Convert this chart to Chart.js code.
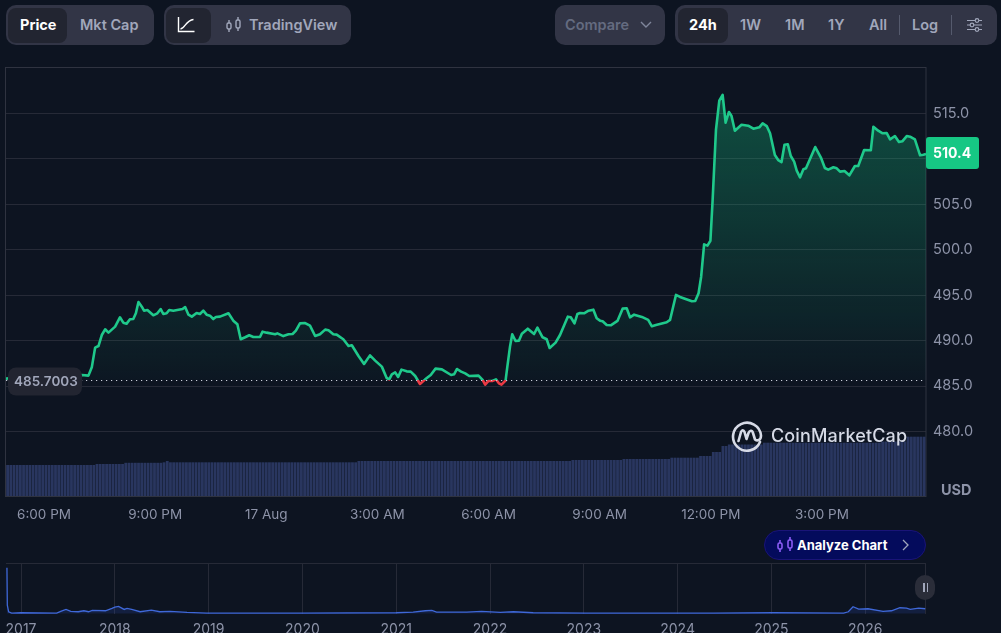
<!DOCTYPE html>
<html>
<head>
<meta charset="utf-8">
<title>Price chart</title>
<script src="https://cdn.jsdelivr.net/npm/chart.js@4/dist/chart.umd.min.js"></script>
<style>
html,body{margin:0;padding:0;background:#0d1421;width:1001px;height:633px;overflow:hidden;font-family:Inter,sans-serif}
canvas{position:absolute;left:0}
#main{top:60px}
#mini{top:555px}
.box{position:absolute;top:5px;height:40px;background:#323546;border-radius:10px}
.on{position:absolute;top:8px;height:35px;background:#222531;border-radius:8px}
.t{position:absolute;top:15px;line-height:20px;font-size:14.5px;font-weight:600;color:#a1a7bb;white-space:nowrap}
.t.w{color:#fff;font-weight:700}
.sep{position:absolute;top:15px;height:20px;width:1px;background:#555a6d}
svg{position:absolute;overflow:visible}
#mark{position:absolute;left:771px;top:424px;line-height:24px;font-size:18px;font-weight:500;color:#d6dae6;letter-spacing:.15px}
#analyze{position:absolute;left:764px;top:530px;width:160px;height:28px;background:#040b5c;border:1px solid #1a1478;border-radius:15px}
#analyze span{position:absolute;left:32px;top:4px;line-height:20px;font-size:13px;font-weight:700;color:#fff;white-space:nowrap}
#pause{position:absolute;left:915px;top:575px;width:20px;height:25px;background:#2a2d39;border-radius:10px}
#pause i{position:absolute;top:8px;width:1.5px;height:9px;background:#a1a7bb}
</style>
</head>
<body>
<canvas id="main" width="1001" height="470" style="width:1001px;height:470px"></canvas>
<canvas id="mini" width="1001" height="78" style="width:1001px;height:78px"></canvas>

<div class="box" style="left:6px;width:148px"></div>
<div class="on" style="left:8px;width:59px"></div>
<div class="t w" style="left:20px">Price</div>
<div class="t" style="left:80px">Mkt Cap</div>

<div class="box" style="left:164px;width:187px"></div>
<div class="on" style="left:166px;width:45px"></div>
<svg style="left:178px;top:17px" width="17" height="16" fill="none" stroke="#fff" stroke-width="1.4"><path d="M0.5 0V14.5H16.5"/><path d="M2.5 12C7 11.5 8 3 15.5 2.5"/></svg>
<svg style="left:226px;top:17px" width="16" height="16" fill="none" stroke="#a1a7bb" stroke-width="1.4"><rect x="1" y="6" width="4" height="6" rx="1.5"/><rect x="10" y="3" width="4" height="8" rx="1.5"/><path d="M3 3V6M3 12V15M12 0V3M12 11V14"/></svg>
<div class="t" style="left:249px">TradingView</div>

<div class="box" style="left:555px;width:110px"></div>
<div class="t" style="left:565px;color:#646b80">Compare</div>
<svg style="left:640px;top:21px" width="12" height="8" fill="none" stroke="#7f869b" stroke-width="1.4"><path d="M1 1L6 6L11 1"/></svg>

<div class="box" style="left:675px;width:322px"></div>
<div class="on" style="left:678px;width:50px"></div>
<div class="t w" style="left:689px">24h</div>
<div class="t" style="left:740px">1W</div>
<div class="t" style="left:785px">1M</div>
<div class="t" style="left:828px">1Y</div>
<div class="t" style="left:869px">All</div>
<div class="sep" style="left:899px"></div>
<div class="t" style="left:912px">Log</div>
<div class="sep" style="left:951px"></div>
<svg style="left:967px;top:18px" width="15" height="14" fill="none" stroke="#a1a7bb" stroke-width="1.2"><path d="M0 2.5H8M12 2.5H15M0 7H3M7 7H15M0 11.5H8M12 11.5H15"/><circle cx="10" cy="2.5" r="1.8"/><circle cx="5" cy="7" r="1.8"/><circle cx="10" cy="11.5" r="1.8"/></svg>

<svg style="left:733px;top:421px" width="30" height="30" fill="none" stroke="#d6dae6" stroke-width="2.6" stroke-linecap="round" stroke-linejoin="round"><path d="M27 21A14 14 0 1 1 28 14.5C28 19 24.5 20.5 22 18.5L20 12C19 8.5 16.5 9.5 15.5 12L13.5 18L11.5 11C10.5 8.5 9 9 8 11L5.5 20"/></svg>
<div id="mark">CoinMarketCap</div>

<div id="analyze">
<svg style="left:12px;top:6px" width="17" height="16" fill="none" stroke="#8b5cf6" stroke-width="1.6"><rect x="1" y="6" width="4" height="6" rx="1.5"/><rect x="11" y="3" width="4" height="8" rx="1.5"/><path d="M3 3V6M3 12V15M13 0V3M13 11V14"/></svg>
<span>Analyze Chart</span>
<svg style="left:137px;top:8px" width="8" height="12" fill="none" stroke="#a1a7bb" stroke-width="1.3"><path d="M1 1L6 6L1 11"/></svg>
</div>
<div id="pause"><i style="left:8px"></i><i style="left:11.5px"></i></div>

<script>
const AXIS_TEXT = '#8d93a8'
const GRID = '#262a37'
const GREEN = '#1fc98b'
const RED = '#ea3943'
const BASE_PRICE = 485.7003
const LAST_PRICE_LABEL = '510.4'

// hours counted from midnight of 16 Aug
const hours = [
16.97,17.5,18.2,19.02,19.2,19.29,19.38,19.47,19.56,19.65,19.74,19.92,20.05,20.14,20.23,20.32,20.41,20.48,20.55,20.64,
20.7,20.79,20.95,21.06,21.15,21.22,21.31,21.38,21.49,21.74,21.81,21.9,21.99,22.12,22.21,22.3,22.39,22.48,22.57,22.64,
22.75,22.98,23.11,23.22,23.31,23.43,23.54,23.65,23.83,23.9,24.01,24.24,24.3,24.46,24.6,24.71,24.8,24.91,25.05,25.18,
25.32,25.45,25.59,25.68,25.81,25.9,26.08,26.22,26.31,26.49,26.64,26.8,26.94,27.12,27.25,27.32,27.39,27.48,27.56,27.65,
27.79,27.9,28.02,28.15,28.29,28.44,28.57,28.74,28.99,29.07,29.15,29.26,29.37,29.48,29.73,29.84,29.91,30,30.1,30.2,
30.28,30.35,30.46,30.51,30.58,30.64,30.73,30.82,30.9,31.06,31.23,31.32,31.46,31.57,31.65,31.81,31.93,32.14,32.22,32.32,
32.4,32.47,32.58,32.7,32.83,32.92,33.01,33.08,33.19,33.3,33.48,33.62,33.73,33.82,33.93,34.14,34.31,34.41,34.52,34.81,
34.9,35.06,35.17,35.49,35.58,35.67,35.74,35.82,35.91,35.99,36.05,36.14,36.23,36.32,36.4,36.49,36.56,36.65,36.83,37.01,
37.15,37.31,37.4,37.51,37.6,37.73,37.82,37.91,37.99,38.08,38.16,38.25,38.32,38.41,38.5,38.57,38.82,38.97,39.08,39.17,
39.31,39.4,39.49,39.61,39.74,39.89,39.98,40.14,40.32,40.39,40.52,40.64,40.75,40.84,40.97,41.08,41.17,41.29,41.38,41.51,
41.65,41.74,41.81]
const prices = [
485.82,486,486.1,486.22,486.15,487.06,489.23,489.41,490.62,491.25,490.88,491.54,492.57,491.98,491.87,492.35,492.38,493.01,494.25,493.74,
493.3,493.37,492.79,493.01,493.48,492.93,493.01,493.37,493.3,493.48,493.7,492.86,492.64,493.04,492.93,493.3,492.86,492.75,492.38,492.6,
492.64,493.01,492.2,491.8,490.15,490.37,490.59,490.4,490.4,490.99,490.88,490.7,490.8,490.5,490.7,490.73,491.1,491.9,491.94,491.65,
490.51,490.7,491.21,491.14,490.7,490.66,490.15,489.41,489.49,488.31,487.43,488.38,487.8,487.14,485.89,485.74,486.29,486.51,486,486.81,
486.62,486.59,486.11,485.23,485.74,486.22,486.92,486.84,486.22,486.29,486.88,486.59,486.4,486.11,486.15,485.67,485.15,485.56,485.56,485.74,
485.3,485.15,485.6,487.2,489.34,490.7,489.96,490,490.77,491.32,490.73,491.43,490.37,490.15,489.19,489.78,490.62,492.64,492.57,491.91,
492.94,493.05,493.01,493.3,493.41,492.46,492.2,492.13,491.72,491.69,492.17,493.52,493.56,492.57,492.86,492.61,492.28,491.58,491.72,492.02,
492.28,495.03,494.81,494.33,494.37,495.21,497.04,500.6,500.46,501,505.48,513.19,516.41,517.04,513.99,515.17,514.72,513.11,513.77,513.66,
513.33,513.48,513.92,513.62,512.82,510.43,509.88,509.66,511.57,511.61,510.32,509.7,508.71,507.98,508.86,508.97,511.31,510.18,509,508.82,
509.08,508.97,508.6,508.67,508.2,509.22,509.22,510.98,510.95,513.55,513.11,512.82,512.85,512.16,512.52,511.86,511.94,512.52,512.45,512.16,
510.4,510.47,510.55]

// one bar per five minutes
const volumes = [
31,31,31,31,31,31,31,31,31,31,31,31,
31,31,31,31,31,31,31,31,31,31,31,31,
31,31,31,31,32,32,32,32,32,32,32,32,
32,33.2,33.2,33.2,33.2,33.2,33.2,33.2,33.2,33.2,33.2,33.2,
33.2,33.7,35,33.7,33.7,33.7,33.7,33.7,33.7,33.7,33.7,33.7,
33.7,33.7,33.7,33.7,33.7,33.7,33.7,33.7,33.7,33.7,33.7,33.7,
33.7,33.7,33.7,33.7,33.7,33.7,33.7,33.7,33.7,33.7,33.7,33.7,
33.7,33.7,33.7,33.7,33.7,33.7,33.7,33.7,33.7,33.7,33.7,33.7,
33.7,33.7,33.7,33.7,33.7,33.7,33.7,33.7,33.7,33.7,33.7,33.7,
33.7,33.7,35,35,35,35,35,35,35,35,35,35,
35,35,35,35,35,35,35,35,35,35,35,35,
35,35,35,35,35,35,35,35,35,35,35,35,
35,35,35,35,35,35,35,35,35,35,35,35,
35,35,35,35,35,35,35,35,35,35,35,35,
35,35,35,35,35,35,35,35,35,36,36,36,
36,36,36,36,36,36,36,36,36,36,36,36,
36,37,37,37,37,37,37,37,37,37,37,37,
37,37,37,37,38.3,38.3,38.3,38.3,38.3,38.3,38.3,38.3,
38.3,40,40,40,40,44,44,44,50,50,51.5,51.5,
51.5,51.5,51.5,51.5,51.5,51.5,51.5,51.5,51.5,53.3,53.3,53.3,
53.3,53.3,53.3,53.3,53.3,53.3,53.3,53.3,53.3,53.3,53.3,53.3,
53.3,53.3,53.3,53.3,53.3,53.3,53.3,53.3,53.3,53.3,53.3,53.3,
53.3,53.3,53.3,53.3,53.3,53.3,53.3,53.3,53.3,53.3,54.5,54.5,
54.5,54.5,54.5,54.5,54.5,54.5,59.3,59.3,59.3,59.3,59.3,59.3]

const priceTicks = [480,485,490,495,500,505,510,515]
const hourTicks = [18,21,24,27,30,33,36,39]
const hourLabels = ['6:00 PM','9:00 PM','17 Aug','3:00 AM','6:00 AM','9:00 AM','12:00 PM','3:00 PM']

// overview strip, all time
const allYears = [
2016.85,2016.854,2016.868,2016.9,2017,2017.38,2017.43,2017.48,2017.53,2017.61,2017.67,2017.72,2017.76,2017.9,2017.97,2018,2018.04,2018.1,2018.13,2018.18,
2018.27,2018.39,2018.48,2018.59,2018.77,2018.98,2019.97,2021,2021.18,2021.31,2021.38,2021.43,2021.75,2021.91,2022.11,2022.25,2022.46,2023.02,2024.03,2024.38,
2025.02,2025.77,2025.82,2025.87,2025.93,2026.03,2026.19,2026.28,2026.37,2026.44,2026.48,2026.57,2026.64]
const allPrices = [
4492,833,180,50,80,50,245,408,212,180,278,180,310,278,506,637,702,408,506,408,
180,343,180,212,114,50,50,80,147,278,310,147,147,212,114,180,80,50,50,50,
80,50,180,670,441,474,212,278,572,539,408,539,474]
const yearTicks = [2017,2018,2019,2020,2021,2022,2023,2024,2025,2026]

Chart.defaults.font.family = 'Inter'
Chart.defaults.animation = false

// tick labels must not push the plot area in
function noPadding(s){
    s.paddingLeft = 0
    s.paddingRight = 0
    s.paddingTop = 0
    s.paddingBottom = 0
}

function lineColor(ctx){
    const chart = ctx.chart
    if (!chart.chartArea) return GREEN
    const y = chart.scales.y.getPixelForValue(BASE_PRICE)
    const t = (y - chart.chartArea.top) / chart.chartArea.height
    const g = chart.ctx.createLinearGradient(0, chart.chartArea.top, 0, chart.chartArea.bottom)
    g.addColorStop(0, GREEN)
    g.addColorStop(t, GREEN)
    g.addColorStop(t, RED)
    g.addColorStop(1, RED)
    return g
}
function fillColor(ctx){
    const chart = ctx.chart
    if (!chart.chartArea) return 'transparent'
    const y0 = chart.scales.y.getPixelForValue(517)
    const y1 = chart.scales.y.getPixelForValue(BASE_PRICE)
    const g = chart.ctx.createLinearGradient(0, y0, 0, y1 + 8)
    g.addColorStop(0, 'rgba(22,199,132,0.33)')
    g.addColorStop((y1 - y0) / (y1 + 8 - y0), 'rgba(22,199,132,0.02)')
    g.addColorStop((y1 - y0) / (y1 + 8 - y0) + 0.0001, 'rgba(234,57,67,0.03)')
    g.addColorStop(1, 'rgba(234,57,67,0.06)')
    return g
}

const priceOverlay = {
    id: 'priceOverlay',
    beforeDatasetsDraw(chart){
        const {ctx, chartArea: a} = chart
        ctx.save()
        ctx.strokeStyle = '#2f3340'
        ctx.lineWidth = 1
        ctx.strokeRect(a.left - 0.5, a.top + 0.5, a.width + 0.5, a.height)
        ctx.restore()
    },
    afterDatasetsDraw(chart){
        const {ctx, chartArea: a, scales} = chart
        const y = Math.round(scales.y.getPixelForValue(BASE_PRICE)) + 0.5
        ctx.save()
        ctx.strokeStyle = '#c9cdd9'
        ctx.lineWidth = 1.2
        ctx.setLineDash([1.2, 3.8])
        ctx.beginPath()
        ctx.moveTo(a.left, y)
        ctx.lineTo(a.right, y)
        ctx.stroke()
        ctx.setLineDash([])

        ctx.fillStyle = '#222531'
        ctx.beginPath()
        ctx.roundRect(8, y - 13, 74, 28, 8)
        ctx.fill()
        ctx.fillStyle = '#a1a7bb'
        ctx.font = '600 13.5px Inter'
        ctx.textBaseline = 'middle'
        ctx.textAlign = 'left'
        ctx.fillText(BASE_PRICE.toFixed(4), 14, y + 1)

        const ty = scales.y.getPixelForValue(prices[prices.length - 1]) - 1
        ctx.fillStyle = '#16c784'
        ctx.beginPath()
        ctx.roundRect(a.right, ty - 16, 53, 32, 3)
        ctx.fill()
        ctx.fillStyle = '#fff'
        ctx.font = '700 14px Inter'
        ctx.fillText(LAST_PRICE_LABEL, a.right + 7, ty + 1)

        ctx.fillStyle = AXIS_TEXT
        ctx.font = '700 14.5px Inter'
        ctx.fillText('USD', a.right + 15, a.bottom - 5.5)
        ctx.restore()
    }
}

new Chart(document.getElementById('main'), {
    type: 'line',
    plugins: [priceOverlay],
    data: {
        datasets: [
            {
                type: 'line',
                data: hours.map((h, i) => ({x: h, y: prices[i]})),
                borderColor: lineColor,
                backgroundColor: fillColor,
                borderWidth: 2.6,
                pointRadius: 0,
                tension: 0,
                borderJoinStyle: 'round',
                fill: {value: BASE_PRICE},
                order: 1,
            },
            {
                type: 'bar',
                data: volumes.map((v, i) => ({x: 16.974 + (i + 0.5) / 11.6, y: v})),
                yAxisID: 'vol',
                backgroundColor: '#29365f',
                barPercentage: 0.88,
                categoryPercentage: 1,
                order: 2,
            },
        ]
    },
    options: {
        responsive: false,
        devicePixelRatio: 1,
        layout: {padding: {left: 6, top: 7, right: 0, bottom: 0}},
        plugins: {legend: {display: false}, tooltip: {enabled: false}},
        scales: {
            x: {
                type: 'linear',
                min: 16.974,
                max: 41.81,
                offset: false,
                grid: {display: false, offset: false},
                border: {display: false},
                afterBuildTicks: (s) => { s.ticks = hourTicks.map(v => ({value: v})) },
                afterFit: (s) => { s.height = 34; noPadding(s) },
                ticks: {
                    color: AXIS_TEXT,
                    font: {size: 13.5},
                    padding: 3,
                    maxRotation: 0,
                    autoSkip: false,
                    callback: (v) => hourLabels[hourTicks.indexOf(v)],
                },
            },
            y: {
                position: 'right',
                min: 472.9,
                max: 520.12,
                grid: {color: GRID, drawTicks: false},
                border: {display: false},
                afterBuildTicks: (s) => { s.ticks = priceTicks.map(v => ({value: v})) },
                afterFit: (s) => { s.width = 75; noPadding(s) },
                ticks: {
                    color: AXIS_TEXT,
                    font: {size: 14.5},
                    padding: 7,
                    callback: (v) => v.toFixed(1),
                },
            },
            vol: {display: false, min: 0, max: 429},
        }
    }
})

const miniFrame = {
    id: 'miniFrame',
    beforeDatasetsDraw(chart){
        const {ctx, chartArea: a} = chart
        ctx.save()
        ctx.strokeStyle = GRID
        ctx.beginPath()
        ctx.moveTo(a.left, a.top + 0.5)
        ctx.lineTo(a.right, a.top + 0.5)
        ctx.moveTo(a.right - 0.5, a.top)
        ctx.lineTo(a.right - 0.5, a.bottom)
        ctx.stroke()
        ctx.restore()
    }
}

new Chart(document.getElementById('mini'), {
    type: 'line',
    plugins: [miniFrame],
    data: {
        datasets: [{
            data: allYears.map((y, i) => ({x: y, y: allPrices[i]})),
            borderColor: '#3f68d8',
            backgroundColor: 'rgba(56,97,251,0.14)',
            borderWidth: 1.3,
            pointRadius: 0,
            tension: 0,
            fill: true,
        }]
    },
    options: {
        responsive: false,
        devicePixelRatio: 1,
        layout: {padding: {left: 6, top: 8, right: 75, bottom: 0}},
        plugins: {legend: {display: false}, tooltip: {enabled: false}},
        scales: {
            x: {
                type: 'linear',
                min: 2016.84,
                max: 2026.648,
                grid: {color: GRID, drawTicks: false},
                border: {display: false},
                afterBuildTicks: (s) => { s.ticks = yearTicks.map(v => ({value: v})) },
                afterFit: (s) => { s.height = 19; noPadding(s) },
                ticks: {
                    color: AXIS_TEXT,
                    font: {size: 14},
                    padding: 7,
                    maxRotation: 0,
                    autoSkip: false,
                    callback: (v) => String(v),
                },
            },
            y: {display: false, min: -40, max: 4950},
        }
    }
})
</script>
</body>
</html>
